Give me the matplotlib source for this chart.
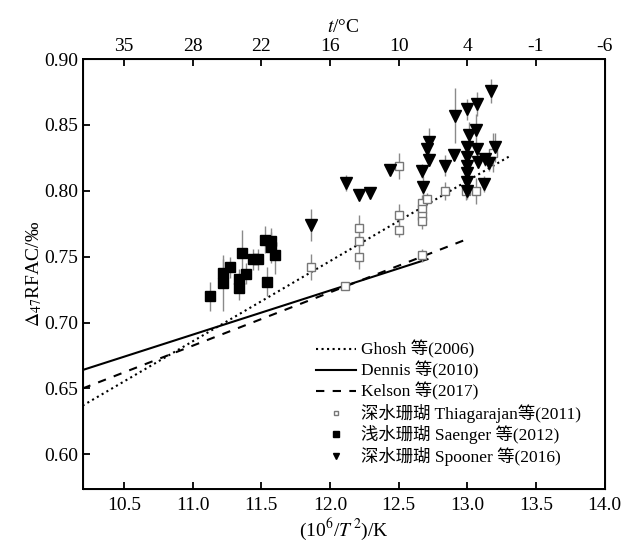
import numpy as np
import matplotlib
matplotlib.use('Agg')
import matplotlib.pyplot as plt

plt.rcParams['font.family'] = ['Liberation Serif', 'Noto Sans CJK SC']
plt.rcParams['mathtext.fontset'] = 'stix'

# calibration lines: slope, intercept, x range
ghosh_coef = (0.0609, 0.0158)
ghosh_x = [10.2, 13.32]
dennis_coef = (0.0335, 0.3223)
dennis_x = [10.2, 12.71]
kelson_coef = (0.0405, 0.2369)
kelson_x = [10.2, 12.97]

# deep-water corals, Thiagarajan et al. (2011)
thia_x = [11.86, 12.11, 12.21, 12.21, 12.21, 12.50, 12.50, 12.50, 12.67, 12.67,
          12.67, 12.67, 12.71, 12.67, 12.84, 12.99, 13.06, 13.19]
thia_y = [0.742, 0.728, 0.772, 0.762, 0.750, 0.782, 0.770, 0.819, 0.791, 0.786,
          0.781, 0.777, 0.794, 0.751, 0.800, 0.800, 0.800, 0.829]
thia_err = [0.010, 0.002, 0.010, 0.005, 0.009, 0.008, 0.005, 0.010, 0.006, 0.004,
            0.004, 0.006, 0.004, 0.005, 0.007, 0.007, 0.010, 0.015]

# shallow-water corals, Saenger et al. (2012)
saen_x = [11.13, 11.22, 11.22, 11.27, 11.36, 11.34, 11.34, 11.39, 11.44, 11.48,
          11.54, 11.53, 11.57, 11.57, 11.60]
saen_y = [0.720, 0.730, 0.738, 0.742, 0.753, 0.733, 0.726, 0.737, 0.748, 0.748,
          0.731, 0.763, 0.762, 0.757, 0.751]
saen_err = [0.011, 0.021, 0.010, 0.008, 0.017, 0.008, 0.009, 0.008, 0.008, 0.008,
            0.011, 0.010, 0.010, 0.012, 0.014]

# deep-water corals, Spooner et al. (2016)
spoo_x = [11.86, 12.12, 12.21, 12.29, 12.44, 12.67, 12.675, 12.72, 12.71, 12.72,
          12.84, 12.90, 12.91, 13.00, 13.07, 13.17, 13.01, 13.06, 13.00, 13.00,
          13.00, 13.00, 13.00, 13.00, 13.07, 13.08, 13.13, 13.16, 13.20, 13.12]
spoo_y = [0.774, 0.806, 0.797, 0.798, 0.816, 0.815, 0.803, 0.837, 0.832, 0.823,
          0.819, 0.827, 0.857, 0.862, 0.866, 0.876, 0.842, 0.846, 0.833, 0.826,
          0.819, 0.8135, 0.807, 0.800, 0.832, 0.822, 0.824, 0.821, 0.833, 0.805]
spoo_err = [0.012, 0.006, 0.003, 0.003, 0.003, 0.005, 0.008, 0.011, 0.004, 0.004,
            0.008, 0.004, 0.021, 0.008, 0.009, 0.009, 0.010, 0.012, 0.004, 0.004,
            0.004, 0.004, 0.006, 0.006, 0.004, 0.005, 0.005, 0.006, 0.011, 0.006]

x_ticks = [10.5, 11.0, 11.5, 12.0, 12.5, 13.0, 13.5, 14.0]
t_labels = ['35', '28', '22', '16', '10', '4', '-1', '-6']
y_ticks = [0.60, 0.65, 0.70, 0.75, 0.80, 0.85, 0.90]

fig = plt.figure(figsize=(6.23, 5.44), dpi=100)
ax = fig.add_axes([0.1326, 0.1018, 0.8380, 0.7897])

for coef, xr, ls, lab in [(ghosh_coef, ghosh_x, ':', 'Ghosh 等(2006)'),
                          (dennis_coef, dennis_x, '-', 'Dennis 等(2010)'),
                          (kelson_coef, kelson_x, '--', 'Kelson 等(2017)')]:
    xx = np.array(xr)
    line, = ax.plot(xx, coef[0] * xx + coef[1], ls, color='black', lw=1.5, label=lab, zorder=2)
    if ls == '--':
        line.set_dashes((4, 4))

ecol = '#8a8a8a'
ax.errorbar(thia_x, thia_y, yerr=thia_err, fmt='none', ecolor=ecol, elinewidth=1, zorder=3)
ax.errorbar(saen_x, saen_y, yerr=saen_err, fmt='none', ecolor=ecol, elinewidth=1, zorder=3)
ax.errorbar(spoo_x, spoo_y, yerr=spoo_err, fmt='none', ecolor=ecol, elinewidth=1, zorder=3)

ax.plot(thia_x, thia_y, 's', ms=6, mfc='white', mec='#777777', mew=1,
        label='深水珊瑚 Thiagarajan等(2011)', zorder=4)
ax.plot(saen_x, saen_y, 's', ms=6.5, color='black',
        label='浅水珊瑚 Saenger 等(2012)', zorder=4)
ax.plot(spoo_x, spoo_y, 'v', ms=8, color='black',
        label='深水珊瑚 Spooner 等(2016)', zorder=4)

ax.set_xlim(10.2, 14.0)
ax.set_ylim(0.574, 0.90)
ax.set_xticks(x_ticks)
ax.set_xticklabels(['%.1f' % v for v in x_ticks])
ax.set_yticks(y_ticks)
ax.set_yticklabels(['%.2f' % v for v in y_ticks])
ax.tick_params(direction='in', length=5, width=1.3, labelsize=14, pad=6)
ax.tick_params(axis='y', pad=3)
for s in ax.spines.values():
    s.set_linewidth(1.4)

top = ax.twiny()
top.set_xlim(ax.get_xlim())
top.set_xticks(x_ticks)
top.set_xticklabels(t_labels)
top.tick_params(direction='in', length=5, width=1.3, labelsize=14, pad=3)
top.set_xlabel('$t$/°C', fontsize=14, labelpad=4)

ax.set_xlabel(r'(10$^6$/$T^{\,2}$)/K', fontsize=14, labelpad=2)
ax.set_ylabel(r'$\Delta_{47}$RFAC/‰', fontsize=14, labelpad=0)

ax.legend(loc='upper left', bbox_to_anchor=(0.43, 0.365), frameon=False, fontsize=12.5,
          handlelength=2.3, handletextpad=0.3, labelspacing=0.16, borderpad=0,
          markerscale=0.6)

fig.savefig('out.png', dpi=100, facecolor='white')
